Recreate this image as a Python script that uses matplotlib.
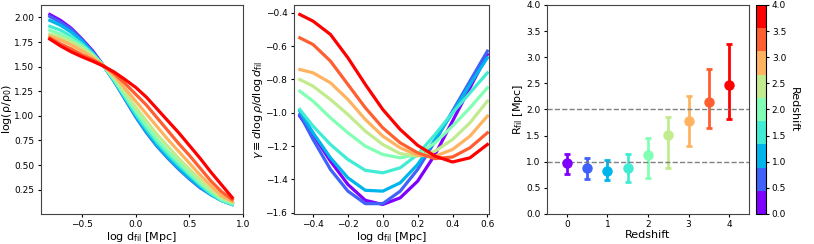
import numpy as np
import matplotlib
matplotlib.use('Agg')
import matplotlib.pyplot as plt
from matplotlib.colors import ListedColormap, Normalize
from matplotlib.cm import ScalarMappable

# redshift bins
redshifts = [0.0, 0.5, 1.0, 1.5, 2.0, 2.5, 3.0, 3.5, 4.0]

# panel 1: log(rho/rho0) vs log d_fil
x1 = [-0.8, -0.7, -0.6, -0.5, -0.4, -0.3, -0.2, -0.1, 0.0, 0.1, 0.2, 0.3, 0.4, 0.5, 0.6, 0.7, 0.8, 0.9]
rho = [
    [2.03, 1.97, 1.89, 1.78, 1.66, 1.51, 1.36, 1.18, 1.00, 0.84, 0.70, 0.58, 0.47, 0.37, 0.28, 0.21, 0.15, 0.11],
    [2.01, 1.95, 1.88, 1.77, 1.65, 1.51, 1.35, 1.17, 0.99, 0.83, 0.69, 0.57, 0.46, 0.36, 0.27, 0.20, 0.14, 0.10],
    [1.97, 1.92, 1.85, 1.76, 1.64, 1.51, 1.35, 1.18, 1.00, 0.84, 0.70, 0.58, 0.47, 0.37, 0.28, 0.20, 0.14, 0.10],
    [1.91, 1.87, 1.81, 1.73, 1.63, 1.51, 1.36, 1.19, 1.02, 0.87, 0.73, 0.61, 0.50, 0.40, 0.30, 0.21, 0.14, 0.10],
    [1.87, 1.83, 1.78, 1.71, 1.62, 1.51, 1.37, 1.21, 1.05, 0.90, 0.76, 0.64, 0.53, 0.42, 0.32, 0.23, 0.15, 0.11],
    [1.83, 1.80, 1.75, 1.69, 1.61, 1.51, 1.39, 1.24, 1.09, 0.95, 0.81, 0.69, 0.57, 0.46, 0.35, 0.25, 0.17, 0.12],
    [1.81, 1.77, 1.72, 1.66, 1.59, 1.51, 1.41, 1.28, 1.15, 1.02, 0.89, 0.76, 0.64, 0.52, 0.40, 0.29, 0.19, 0.13],
    [1.79, 1.73, 1.68, 1.62, 1.57, 1.51, 1.43, 1.33, 1.22, 1.11, 0.98, 0.85, 0.72, 0.60, 0.47, 0.34, 0.23, 0.15],
    [1.78, 1.71, 1.65, 1.60, 1.555, 1.505, 1.445, 1.37, 1.29, 1.19, 1.07, 0.95, 0.83, 0.70, 0.57, 0.43, 0.30, 0.17],
]

# panel 2: gamma = dlog rho / dlog d_fil
x2 = [-0.476, -0.4, -0.3, -0.2, -0.1, 0.0, 0.1, 0.2, 0.3, 0.4, 0.5, 0.6]
gamma = [
    [-1.02, -1.13, -1.29, -1.43, -1.525, -1.55, -1.51, -1.41, -1.25, -1.05, -0.85, -0.65],
    [-1.01, -1.16, -1.34, -1.47, -1.545, -1.545, -1.47, -1.34, -1.17, -0.99, -0.81, -0.63],
    [-0.99, -1.12, -1.27, -1.39, -1.465, -1.47, -1.42, -1.31, -1.16, -1.00, -0.83, -0.67],
    [-0.98, -1.08, -1.19, -1.28, -1.345, -1.36, -1.33, -1.25, -1.13, -1.00, -0.88, -0.76],
    [-0.87, -0.93, -1.03, -1.12, -1.20, -1.25, -1.27, -1.25, -1.18, -1.08, -0.97, -0.85],
    [-0.80, -0.84, -0.92, -1.01, -1.11, -1.19, -1.245, -1.26, -1.23, -1.16, -1.06, -0.93],
    [-0.74, -0.76, -0.82, -0.92, -1.04, -1.14, -1.21, -1.255, -1.26, -1.22, -1.14, -1.02],
    [-0.55, -0.59, -0.69, -0.83, -0.97, -1.09, -1.18, -1.24, -1.275, -1.265, -1.21, -1.12],
    [-0.41, -0.45, -0.53, -0.67, -0.83, -0.98, -1.10, -1.195, -1.26, -1.295, -1.27, -1.19],
]

# panel 3: filament radius vs redshift
r_fil = [0.977, 0.882, 0.819, 0.882, 1.124, 1.505, 1.783, 2.145, 2.47]
r_hi = [1.143, 1.072, 1.029, 1.149, 1.448, 1.853, 2.253, 2.768, 3.26]
r_lo = [0.768, 0.678, 0.648, 0.615, 0.686, 0.876, 1.295, 1.638, 1.81]

colors = plt.cm.rainbow(np.linspace(0, 1, len(redshifts)))
cmap = ListedColormap(colors)
norm = Normalize(vmin=0, vmax=4)

fig = plt.figure(figsize=(8.14, 2.44), dpi=100)
ax1 = fig.add_axes([0.050, 0.123, 0.2485, 0.8566])
ax2 = fig.add_axes([0.3606, 0.123, 0.2405, 0.8566])
ax3 = fig.add_axes([0.6716, 0.123, 0.2489, 0.8566])
cax = fig.add_axes([0.929, 0.123, 0.0115, 0.8566])

for i in range(len(redshifts)):
    ax1.plot(x1, rho[i], color=colors[i], lw=2.3)
    ax2.plot(x2, gamma[i], color=colors[i], lw=2.3)

lab = dict(fontsize=8, labelpad=0.5)

ax1.set_xlabel(r'log d$_{\rm fil}$ [Mpc]', **lab)
ax1.set_ylabel('log(ρ/ρ$_0$)', **lab)
ax1.set_xticks([-0.5, 0.0, 0.5, 1.0])

ax2.set_xlim(-0.512, 0.611)
ax2.set_xlabel(r'log d$_{\rm fil}$ [Mpc]', **lab)
ax2.set_ylabel(r'$\gamma \equiv d\log\rho/d\log d_{\rm fil}$', **lab)

for i in range(len(redshifts)):
    ax3.errorbar(redshifts[i], r_fil[i],
                 yerr=[[r_fil[i] - r_lo[i]], [r_hi[i] - r_fil[i]]],
                 fmt='o', color=colors[i], ms=6.5, elinewidth=2, capsize=2.5, capthick=2)
ax3.axhline(1.0, color='gray', ls='--', lw=1)
ax3.axhline(2.0, color='gray', ls='--', lw=1)
ax3.set_xlim(-0.5, 4.5)
ax3.set_ylim(0, 4)
ax3.set_xticks([0, 1, 2, 3, 4])
ax3.set_xlabel('Redshift', **lab)
ax3.set_ylabel(r'R$_{\rm fil}$ [Mpc]', **lab)

for ax in (ax1, ax2, ax3):
    ax.tick_params(labelsize=6.5, length=2.5, pad=2)
    for s in ax.spines.values():
        s.set_color('#444444')

sm = ScalarMappable(norm=norm, cmap=cmap)
cb = fig.colorbar(sm, cax=cax, ticks=np.arange(0, 4.01, 0.5))
cb.ax.tick_params(labelsize=6.5, length=2.5, pad=2)
cb.set_label('Redshift', rotation=270, labelpad=9, fontsize=8)

fig.savefig('out.png', dpi=100)
